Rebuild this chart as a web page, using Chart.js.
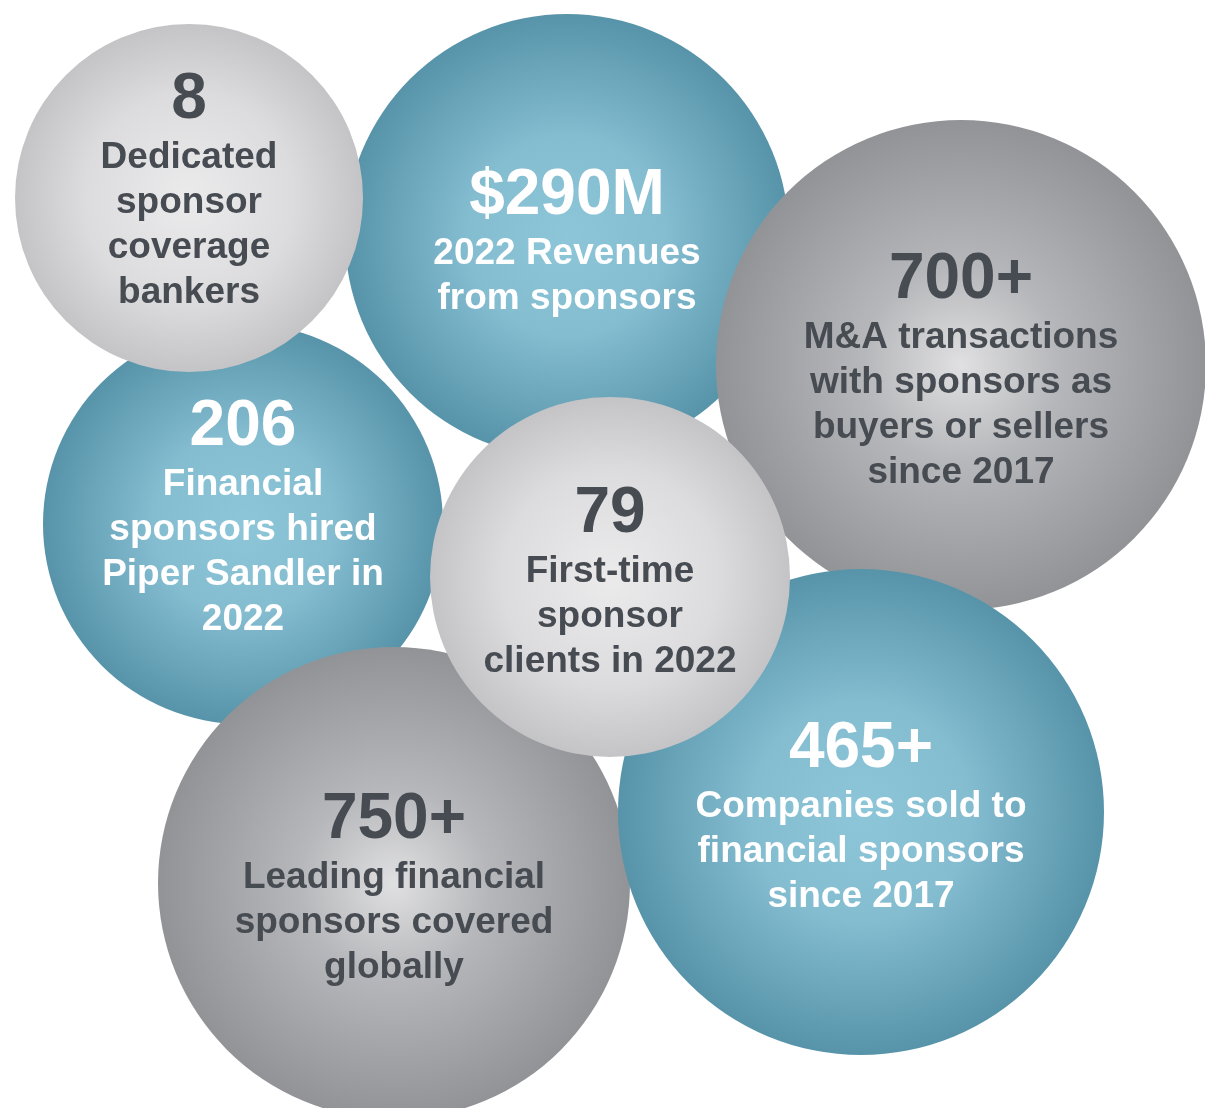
<!DOCTYPE html>
<html>
<head>
<meta charset="utf-8">
<script src="https://cdn.jsdelivr.net/npm/chart.js@4.4.0/dist/chart.umd.min.js"></script>
<style>
  html, body { margin: 0; padding: 0; background: #ffffff; }
  #wrap { width: 1205px; height: 1108px; }
</style>
</head>
<body>
<div id="wrap"><canvas id="bubbles" width="1205" height="1108"></canvas></div>
<script>
// Bubble data (listed bottom layer first)
const bubbleX = [567, 243, 189, 961, 394, 861, 610];
const bubbleY = [236, 524, 198, 365, 883, 812, 577];
const bubbleR = [222, 200, 174, 245, 236, 243, 180];
const figures = ["$290M", "206", "8", "700+", "750+", "465+", "79"];
const captions = [
  ["2022 Revenues", "from sponsors"],
  ["Financial", "sponsors hired", "Piper Sandler in", "2022"],
  ["Dedicated", "sponsor", "coverage", "bankers"],
  ["M&A transactions", "with sponsors as", "buyers or sellers", "since 2017"],
  ["Leading financial", "sponsors covered", "globally"],
  ["Companies sold to", "financial sponsors", "since 2017"],
  ["First-time", "sponsor", "clients in 2022"]
];
const tones = ["teal", "teal", "light", "dark", "dark", "teal", "light"];

const palette = {
  teal:  { stops: [[0, "#8ec6d9"], [0.45, "#84bcd0"], [1, "#5794a9"]], text: "#ffffff" },
  light: { stops: [[0, "#ebebec"], [0.6, "#dcdcde"], [1, "#c4c4c7"]], text: "#474b52" },
  dark:  { stops: [[0, "#e0e0e2"], [0.4, "#b6b7ba"], [1, "#929397"]], text: "#474b52" }
};

const FONT = "'Liberation Sans', Arial, Helvetica, sans-serif";

function bubbleFill(context) {
  const chart = context.chart;
  const i = context.dataIndex;
  const tone = palette[tones[i]] || palette.light;
  if (i === undefined || !chart.scales.x || !chart.scales.y) return tone.stops[1][1];
  const cx = chart.scales.x.getPixelForValue(bubbleX[i]);
  const cy = chart.scales.y.getPixelForValue(bubbleY[i]);
  const r = bubbleR[i];
  if (!isFinite(cx) || !isFinite(cy)) return tone.stops[1][1];
  const g = chart.ctx.createRadialGradient(cx, cy, 0, cx, cy, r);
  tone.stops.forEach(s => g.addColorStop(s[0], s[1]));
  return g;
}

// Text inside each bubble
const bubbleText = {
  id: "bubbleText",
  afterDatasetsDraw(chart, args, opts) {
    const ctx = chart.ctx;
    const meta = chart.getDatasetMeta(0);
    const lift = opts.lift || {};
    meta.data.forEach((pt, i) => {
      const lines = captions[i];
      const capH = 46, gapFirst = 50, lineH = 45;
      const block = capH + gapFirst + lineH * (lines.length - 1);
      let base = pt.y - block / 2 + capH + 2 - (lift[i] || 0);
      ctx.save();
      ctx.fillStyle = palette[tones[i]].text;
      ctx.textAlign = "center";
      ctx.textBaseline = "alphabetic";
      ctx.font = "bold 64px " + FONT;
      ctx.fillText(figures[i], pt.x, base);
      ctx.font = "bold 37px " + FONT;
      lines.forEach((ln, k) => {
        ctx.fillText(ln, pt.x, base + gapFirst + k * lineH);
      });
      ctx.restore();
    });
  }
};

const ctx = document.getElementById("bubbles").getContext("2d");

const chart = new Chart(ctx, {
  type: "bubble",
  data: {
    datasets: [{
      data: bubbleX.map((x, i) => ({ x: x, y: bubbleY[i], r: bubbleR[i] })),
      backgroundColor: bubbleFill,
      borderWidth: 0,
      hoverBorderWidth: 0,
      hoverRadius: 0,
      clip: false
    }]
  },
  options: {
    responsive: false,
    animation: false,
    events: [],
    layout: { padding: 0, autoPadding: false },
    plugins: {
      legend: { display: false },
      tooltip: { enabled: false },
      bubbleText: { lift: { 1: 12, 2: 13 } }
    },
    scales: {
      x: { type: "linear", min: 0, max: 1205, display: false },
      y: { type: "linear", min: 0, max: 1108, reverse: true, display: false }
    }
  },
  plugins: [bubbleText]
});
chart.update();
</script>
</body>
</html>
